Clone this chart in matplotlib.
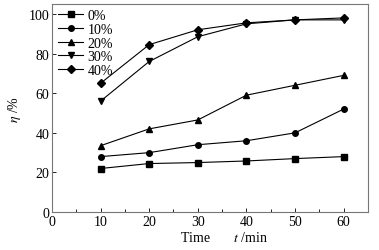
import matplotlib.pyplot as plt
from matplotlib.ticker import MultipleLocator

plt.rcParams['font.family'] = ['Liberation Serif', 'DejaVu Serif']
plt.rcParams['mathtext.fontset'] = 'stix'

time = [10, 20, 30, 40, 50, 60]
labels = ['0%', '10%', '20%', '30%', '40%']
eta_0 = [22, 24.5, 25, 25.8, 27, 28]
eta_10 = [28, 30, 34, 36, 40, 52]
eta_20 = [33.5, 42, 46.5, 59, 64, 69]
eta_30 = [56, 76, 88.5, 95, 97, 97]
eta_40 = [65, 84.5, 92, 95.5, 97, 98]
series = [eta_0, eta_10, eta_20, eta_30, eta_40]
markers = ['s', 'o', '^', 'v', 'D']

fig = plt.figure(figsize=(3.79, 2.51), dpi=100)
ax = fig.add_axes([0.137, 0.151, 0.834, 0.829])

for y, lab, m in zip(series, labels, markers):
    ax.plot(time, y, color='black', lw=0.8, marker=m, ms=4, label=lab)

ax.set_xlim(0, 65)
ax.set_ylim(0, 105)
ax.xaxis.set_major_locator(MultipleLocator(10))
ax.xaxis.set_minor_locator(MultipleLocator(5))
ax.yaxis.set_major_locator(MultipleLocator(20))
ax.tick_params(direction='in', labelsize=10, length=3, width=0.6, pad=2)
ax.tick_params(which='minor', direction='in', length=2, width=0.6)
for s in ax.spines.values():
    s.set_color('#777777')
    s.set_linewidth(0.8)

ax.set_xlabel('Time       $t$ /min', fontsize=10)
ax.xaxis.set_label_coords(0.545, -0.085)
ax.set_ylabel('$\\eta$ /%', fontsize=10, labelpad=4)

ax.legend(loc='upper left', frameon=False, fontsize=10, handlelength=1.8,
          handletextpad=0.3, labelspacing=0.05, borderaxespad=0.0,
          borderpad=0.0, bbox_to_anchor=(0.02, 0.975))

fig.savefig('out.png', dpi=100)
